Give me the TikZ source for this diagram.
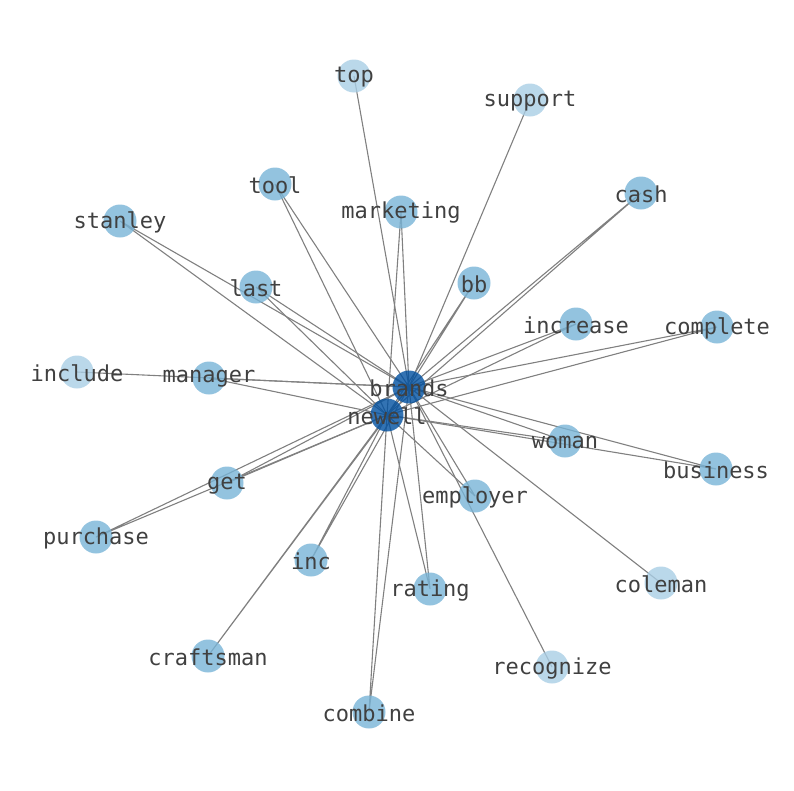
\documentclass[tikz,border=0pt]{standalone}
\usepackage{fontspec}
\newfontfamily\wordfont{DejaVu Sans Mono}
\usetikzlibrary{backgrounds}
\begin{document}
\begin{tikzpicture}[x=1pt,y=-1pt,
  word/.style={text=wordtext,font=\wordfont\fontsize{22}{22}\selectfont,inner sep=0pt,yshift=-1pt},
  hub/.style={circle,fill=hubfill,fill opacity=0.8,minimum size=33pt,inner sep=0pt,label={[word]center:#1}},
  mid/.style={circle,fill=midfill,fill opacity=0.8,minimum size=33pt,inner sep=0pt,label={[word]center:#1}},
  leaf/.style={circle,fill=leaffill,fill opacity=0.8,minimum size=33pt,inner sep=0pt,label={[word]center:#1}},
  edge/.style={draw=black!50,line width=1.1pt}]
  \definecolor{hubfill}{HTML}{0050A0}
  \definecolor{midfill}{HTML}{78B4D7}
  \definecolor{leaffill}{HTML}{A9CEE5}
  \definecolor{wordtext}{HTML}{404040}
  \useasboundingbox (0,0) rectangle (794,790);
  % words
  \node[leaf=top] (top) at (354,76) {};
  \node[leaf=support] (support) at (530,100) {};
  \node[mid=tool] (tool) at (275,184) {};
  \node[mid=marketing] (marketing) at (401,212) {};
  \node[mid=cash] (cash) at (641,193) {};
  \node[mid=stanley] (stanley) at (120,221) {};
  \node[mid=bb] (bb) at (474,283) {};
  \node[mid=last] (last) at (256,287) {};
  \node[mid=increase] (increase) at (576,324) {};
  \node[mid=complete] (complete) at (717,327) {};
  \node[leaf=include] (include) at (77,372) {};
  \node[mid=manager] (manager) at (209,378) {};
  \node[mid=woman] (woman) at (565,441) {};
  \node[mid=business] (business) at (716,469) {};
  \node[mid=get] (get) at (227,483) {};
  \node[mid=employer] (employer) at (475,496) {};
  \node[mid=purchase] (purchase) at (96,537) {};
  \node[mid=inc] (inc) at (311,560) {};
  \node[mid=rating] (rating) at (430,589) {};
  \node[leaf=coleman] (coleman) at (661,583) {};
  \node[mid=craftsman] (craftsman) at (208,656) {};
  \node[leaf=recognize] (recognize) at (552,667) {};
  \node[mid=combine] (combine) at (369,712) {};
  % hubs
  \node[hub=brands] (brands) at (409,387) {};
  \node[hub=newell] (newell) at (387,415) {};
  % links
  \begin{pgfonlayer}{background}
    \draw[edge] (brands.center) -- (newell.center);
    \draw[edge] (top.center) -- (brands.center);
    \draw[edge] (support.center) -- (brands.center);
    \draw[edge] (include.center) -- (brands.center);
    \draw[edge] (coleman.center) -- (brands.center);
    \draw[edge] (recognize.center) -- (brands.center);
    \draw[edge] (tool.center) -- (brands.center) (tool.center) -- (newell.center);
    \draw[edge] (marketing.center) -- (brands.center) (marketing.center) -- (newell.center);
    \draw[edge] (cash.center) -- (brands.center) (cash.center) -- (newell.center);
    \draw[edge] (stanley.center) -- (brands.center) (stanley.center) -- (newell.center);
    \draw[edge] (bb.center) -- (brands.center) (bb.center) -- (newell.center);
    \draw[edge] (last.center) -- (brands.center) (last.center) -- (newell.center);
    \draw[edge] (increase.center) -- (brands.center) (increase.center) -- (newell.center);
    \draw[edge] (complete.center) -- (brands.center) (complete.center) -- (newell.center);
    \draw[edge] (manager.center) -- (brands.center) (manager.center) -- (newell.center);
    \draw[edge] (woman.center) -- (brands.center) (woman.center) -- (newell.center);
    \draw[edge] (business.center) -- (brands.center) (business.center) -- (newell.center);
    \draw[edge] (get.center) -- (brands.center) (get.center) -- (newell.center);
    \draw[edge] (employer.center) -- (brands.center) (employer.center) -- (newell.center);
    \draw[edge] (purchase.center) -- (brands.center) (purchase.center) -- (newell.center);
    \draw[edge] (inc.center) -- (brands.center) (inc.center) -- (newell.center);
    \draw[edge] (rating.center) -- (brands.center) (rating.center) -- (newell.center);
    \draw[edge] (craftsman.center) -- (brands.center) (craftsman.center) -- (newell.center);
    \draw[edge] (combine.center) -- (brands.center) (combine.center) -- (newell.center);
  \end{pgfonlayer}
\end{tikzpicture}
\end{document}
